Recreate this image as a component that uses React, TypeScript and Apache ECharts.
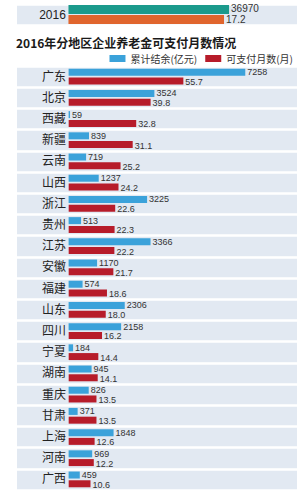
import React, { useEffect, useRef } from "react";
import * as echarts from "echarts";

const totalYear = ["2016"];
const totalBalance = [36970];
const totalMonths = [17.2];

const provinces = ["广东", "北京", "西藏", "新疆", "云南", "山西", "浙江", "贵州", "江苏", "安徽", "福建", "山东", "四川", "宁夏", "湖南", "重庆", "甘肃", "上海", "河南", "广西"];
const balance = [7258, 3524, 59, 839, 719, 1237, 3225, 513, 3366, 1170, 574, 2306, 2158, 184, 945, 826, 371, 1848, 969, 459];
const months = [55.7, 39.8, 32.8, 31.1, 25.2, 24.2, 22.6, 22.3, 22.2, 21.7, 18.6, 18.0, 16.2, 14.4, 14.1, 13.5, 13.5, 12.6, 12.2, 10.6];

const titleText = "2016年分地区企业养老金可支付月数情况";
const seriesNames = ["累计结余(亿元)", "可支付月数(月)"];

const FONT = "'Liberation Sans', 'Noto Sans CJK SC', sans-serif";
const BAND = "#e2e9f2";

export default function App() {
  const ref = useRef<HTMLDivElement>(null);
  useEffect(() => {
    if (!ref.current) return;
    const chart = echarts.init(ref.current, undefined, { renderer: "svg" });
    const hiddenX = {
      show: true,
      axisLine: { show: false },
      axisTick: { show: false },
      axisLabel: { show: false },
      splitLine: { show: false },
    };
    const bandY = (gridIndex: number, data: string[], margin: number, size: number) => ({
      type: "category" as const,
      gridIndex,
      data,
      inverse: true,
      axisLine: { show: false },
      axisTick: { show: false },
      axisLabel: {
        inside: true,
        margin,
        align: "center" as const,
        color: "#222",
        fontSize: size,
        fontFamily: FONT,
      },
      splitArea: { show: true, areaStyle: { color: [BAND, BAND] } },
      splitLine: { show: true, lineStyle: { color: "#ffffff", width: 2.5 } },
      z: 1,
    });
    const valLabel = (fs: number, dec: boolean, dy: number) => ({
      show: true,
      position: "right" as const,
      distance: 2,
      offset: [0, dy],
      color: "#333",
      fontSize: fs,
      lineHeight: fs,
      fontFamily: FONT,
      formatter: (p: any) => (dec ? Number(p.value).toFixed(1) : String(p.value)),
    });
    chart.setOption({
      animation: false,
      backgroundColor: "#ffffff",
      title: {
        text: titleText,
        left: 16,
        top: 36,
        padding: 0,
        textStyle: {
          fontSize: 12,
          lineHeight: 12,
          fontWeight: "bold",
          color: "#1a1a1a",
          fontFamily: "'Noto Sans CJK SC', sans-serif",
        },
      },
      legend: {
        data: seriesNames,
        right: 7,
        top: 53,
        padding: 0,
        icon: "rect",
        itemWidth: 16,
        itemHeight: 7,
        itemGap: 8,
        textStyle: { fontSize: 10, lineHeight: 11, color: "#333", fontFamily: "'Noto Sans CJK SC', sans-serif" },
      },
      grid: [
        { left: 17, right: 3, top: 4, height: 21 },
        { left: 17, right: 3, top: 66, height: 424 },
      ],
      xAxis: [
        { type: "value", gridIndex: 0, min: -11850, max: 52610, ...hiddenX },
        { type: "value", gridIndex: 0, min: -5.69, max: 25.27, ...hiddenX },
        { type: "value", gridIndex: 1, min: -2120, max: 9383, ...hiddenX },
        { type: "value", gridIndex: 1, min: -25.1, max: 110.9, ...hiddenX },
      ],
      yAxis: [bandY(0, totalYear, 35.5, 12), bandY(1, provinces, 37, 12)],
      series: [
        {
          name: "2016累计结余",
          type: "bar",
          xAxisIndex: 0,
          yAxisIndex: 0,
          data: totalBalance,
          barWidth: 9,
          barGap: "12%",
          itemStyle: { color: "#1b9a8c" },
          label: valLabel(10, false, -1),
          z: 3,
        },
        {
          name: "2016可支付月数",
          type: "bar",
          xAxisIndex: 1,
          yAxisIndex: 0,
          data: totalMonths,
          barWidth: 9,
          barGap: "12%",
          itemStyle: { color: "#e0652d" },
          label: valLabel(10, true, 0),
          z: 3,
        },
        {
          name: seriesNames[0],
          type: "bar",
          xAxisIndex: 2,
          yAxisIndex: 1,
          data: balance,
          barWidth: 7,
          barGap: "25%",
          itemStyle: { color: "#3ba2da" },
          label: valLabel(9, false, 0),
          z: 3,
        },
        {
          name: seriesNames[1],
          type: "bar",
          xAxisIndex: 3,
          yAxisIndex: 1,
          data: months,
          barWidth: 7,
          barGap: "25%",
          itemStyle: { color: "#b71c2a" },
          label: valLabel(9, true, 1),
          z: 3,
        },
      ],
    });
    return () => chart.dispose();
  }, []);
  return (
    <div
      ref={ref}
      style={{ position: "fixed", left: 0, top: 0, width: 300, height: 490 }}
    />
  );
}
